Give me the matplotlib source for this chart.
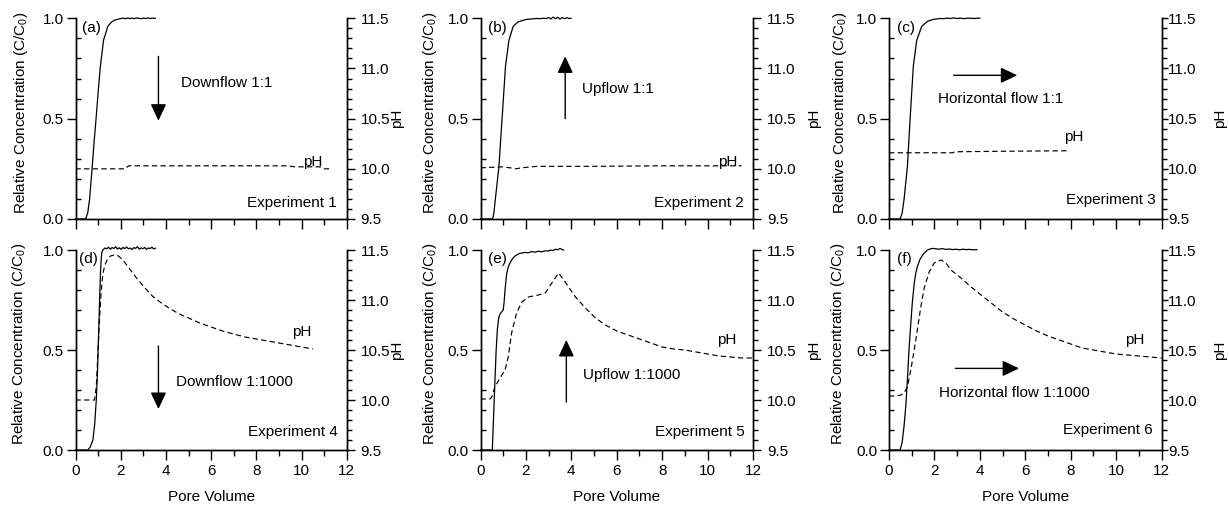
import matplotlib
matplotlib.use("Agg")
import matplotlib.pyplot as plt
from matplotlib.ticker import MultipleLocator

plt.rcParams['font.family'] = ['Liberation Sans', 'DejaVu Sans']
plt.rcParams['mathtext.default'] = 'regular'
FS = 11

# ---------------- Experiment 1 : Downflow 1:1 ----------------
pv_c1 = [0, 0.45, 0.54, 0.62, 0.74, 0.82, 0.91, 1.0, 1.1, 1.24, 1.43, 1.6, 1.72,
         1.9, 2.0, 2.1, 2.2, 2.3, 2.4, 2.5, 2.6, 2.7, 2.8, 2.9, 3.0, 3.1, 3.2, 3.3, 3.4, 3.53]
c1 = [0, 0, 0.03, 0.095, 0.26, 0.38, 0.5, 0.63, 0.76, 0.89, 0.96, 0.982, 0.99,
      0.996, 0.999, 1.001, 0.998, 1.002, 0.999, 1.001, 0.998, 1.002, 1.0, 0.998, 1.001,
      0.999, 1.002, 0.999, 1.001, 1.0]
pv_ph1 = [0, 2.2, 2.35, 5.0, 9.4, 9.7, 10.8, 11.0, 11.28]
ph1 = [10.0, 10.0, 10.03, 10.03, 10.03, 10.02, 10.02, 10.0, 10.0]

# ---------------- Experiment 2 : Upflow 1:1 ----------------
pv_c2 = [0, 0.53, 0.59, 0.65, 0.81, 0.88, 0.95, 1.1, 1.25, 1.44, 1.65, 1.88,
         2.0, 2.15, 2.3, 2.45, 2.6, 2.75, 2.9, 3.0, 3.1, 3.2, 3.3, 3.4, 3.5, 3.6, 3.7,
         3.8, 3.9, 3.99]
c2 = [0, 0, 0.03, 0.095, 0.26, 0.38, 0.5, 0.76, 0.89, 0.96, 0.982, 0.99,
      0.994, 0.996, 0.997, 0.999, 0.998, 1.0, 0.999, 1.004, 0.997, 1.006, 0.998, 1.005,
      0.996, 1.004, 0.998, 1.003, 0.999, 1.0]
pv_ph2 = [0, 1.0, 1.3, 1.56, 1.8, 2.5, 5.0, 8.0, 11.5]
ph2 = [10.01, 10.02, 10.01, 10.0, 10.01, 10.025, 10.025, 10.03, 10.03]

# ---------------- Experiment 3 : Horizontal flow 1:1 ----------------
pv_c3 = [0, 0.49, 0.58, 0.66, 0.81, 0.87, 0.93, 1.07, 1.22, 1.44, 1.7, 1.96,
         2.1, 2.25, 2.4, 2.55, 2.7, 2.85, 3.0, 3.15, 3.3, 3.45, 3.6, 3.75, 3.9, 4.0]
c3 = [0, 0, 0.03, 0.095, 0.26, 0.38, 0.5, 0.76, 0.89, 0.96, 0.985, 0.995,
      0.997, 0.999, 0.998, 1.001, 0.999, 1.002, 0.999, 1.001, 0.998, 1.001, 1.0,
      0.999, 1.001, 1.0]
pv_ph3 = [0, 2.8, 2.9, 5.0, 7.84]
ph3 = [10.16, 10.16, 10.17, 10.175, 10.18]

# ---------------- Experiment 4 : Downflow 1:1000 ----------------
pv_c4 = [0, 0.55, 0.65, 0.77, 0.85, 0.92, 0.97, 1.0, 1.04, 1.08, 1.11, 1.14, 1.17, 1.21,
         1.3, 1.38, 1.46, 1.54, 1.62, 1.7, 1.78, 1.86, 1.94, 2.02, 2.1, 2.18, 2.26, 2.34,
         2.42, 2.5, 2.58, 2.66, 2.74, 2.82, 2.9, 2.98, 3.06, 3.14, 3.22, 3.3, 3.38, 3.46, 3.54]
c4 = [0, 0, 0.015, 0.05, 0.13, 0.25, 0.38, 0.5, 0.65, 0.8, 0.9, 0.96, 0.99, 1.0,
      1.01, 1.006, 1.014, 1.004, 1.012, 1.008, 1.016, 1.005, 1.011, 1.003, 1.013, 1.007,
      1.015, 1.006, 1.01, 1.002, 1.012, 1.008, 1.017, 1.004, 1.011, 1.006, 1.013, 1.003,
      1.01, 1.007, 1.014, 1.005, 1.009]
pv_ph4 = [0, 0.84, 0.92, 0.99, 1.06, 1.14, 1.21, 1.3, 1.42, 1.55, 1.7, 1.8, 1.9, 2.1,
          2.4, 2.7, 3.0, 3.4, 3.8, 4.2, 4.6, 5.0, 5.5, 6.0, 6.5, 7.0, 7.5, 8.0, 8.5, 9.0,
          9.5, 10.0, 10.5]
ph4 = [10.0, 10.0, 10.13, 10.46, 10.8, 11.1, 11.26, 11.35, 11.41, 11.44, 11.45, 11.45,
       11.44, 11.40, 11.31, 11.22, 11.14, 11.04, 10.97, 10.91, 10.86, 10.82, 10.77, 10.73,
       10.69, 10.66, 10.63, 10.61, 10.59, 10.57, 10.55, 10.53, 10.51]

# ---------------- Experiment 5 : Upflow 1:1000 ----------------
pv_c5 = [0, 0.52, 0.56, 0.6, 0.64, 0.69, 0.74, 0.8, 0.86, 0.93, 1.0, 1.04, 1.08, 1.15,
         1.22, 1.3, 1.4, 1.52, 1.7, 1.96, 2.1, 2.25, 2.4, 2.55, 2.7, 2.85, 3.0, 3.1, 3.2,
         3.3, 3.4, 3.5, 3.58, 3.66]
c5 = [0, 0, 0.12, 0.24, 0.36, 0.5, 0.6, 0.66, 0.68, 0.69, 0.70, 0.74, 0.8, 0.88,
      0.915, 0.935, 0.955, 0.97, 0.982, 0.988, 0.986, 0.992, 0.989, 0.994, 0.991, 0.996,
      0.995, 1.0, 0.997, 1.004, 1.001, 1.008, 1.003, 1.0]
pv_ph5 = [0, 0.41, 0.5, 0.63, 0.86, 1.08, 1.22, 1.37, 1.59, 1.82, 2.11, 2.55, 2.85, 3.14,
          3.44, 3.73, 4.18, 4.62, 5.06, 5.5, 6.0, 6.5, 7.0, 7.5, 8.0, 8.5, 9.0, 9.5, 10.0,
          10.5, 11.0, 11.5, 12.0]
ph5 = [10.01, 10.01, 10.03, 10.13, 10.22, 10.3, 10.43, 10.67, 10.87, 10.98, 11.03, 11.05,
       11.07, 11.17, 11.27, 11.18, 11.03, 10.92, 10.82, 10.75, 10.69, 10.65, 10.61, 10.57,
       10.53, 10.51, 10.50, 10.48, 10.46, 10.44, 10.43, 10.42, 10.42]

# ---------------- Experiment 6 : Horizontal flow 1:1000 ----------------
pv_c6 = [0, 0.49, 0.58, 0.66, 0.74, 0.81, 0.88, 0.96, 1.03, 1.11, 1.18, 1.25, 1.36, 1.48,
         1.6, 1.7, 1.8, 1.92, 2.05, 2.2, 2.35, 2.5, 2.65, 2.8, 2.95, 3.1, 3.25, 3.4, 3.55,
         3.7, 3.87]
c6 = [0, 0, 0.04, 0.117, 0.22, 0.35, 0.5, 0.633, 0.74, 0.833, 0.885, 0.917, 0.952, 0.975,
      0.99, 1.0, 1.005, 1.008, 1.006, 1.004, 1.007, 1.003, 1.005, 1.002, 1.004, 1.001,
      1.004, 1.002, 1.003, 1.001, 1.002]
pv_ph6 = [0, 0.3, 0.52, 0.66, 0.81, 0.96, 1.11, 1.25, 1.4, 1.55, 1.77, 1.99, 2.29, 2.51,
          2.73, 3.17, 3.62, 4.0, 4.5, 5.0, 5.5, 6.0, 6.5, 7.0, 7.5, 8.0, 8.5, 9.0, 9.5,
          10.0, 10.5, 11.0, 11.5, 12.0]
ph6 = [10.04, 10.04, 10.05, 10.07, 10.13, 10.3, 10.5, 10.7, 10.93, 11.12, 11.28, 11.37,
       11.4, 11.37, 11.3, 11.22, 11.13, 11.06, 10.97, 10.88, 10.81, 10.75, 10.69, 10.64,
       10.6, 10.56, 10.52, 10.5, 10.48, 10.46, 10.45, 10.44, 10.43, 10.42]

panel_tags = ['(a)', '(b)', '(c)', '(d)', '(e)', '(f)']
flow_labels = ['Downflow 1:1', 'Upflow 1:1', 'Horizontal flow 1:1',
               'Downflow 1:1000', 'Upflow 1:1000', 'Horizontal flow 1:1000']
experiment_labels = ['Experiment 1', 'Experiment 2', 'Experiment 3',
                     'Experiment 4', 'Experiment 5', 'Experiment 6']
x_ticks = [0, 2, 4, 6, 8, 10, 12]

series = [(pv_c1, c1, pv_ph1, ph1), (pv_c2, c2, pv_ph2, ph2), (pv_c3, c3, pv_ph3, ph3),
          (pv_c4, c4, pv_ph4, ph4), (pv_c5, c5, pv_ph5, ph5), (pv_c6, c6, pv_ph6, ph6)]

# layout (pixels) and annotation placement per panel
W, H = 1229, 507
col_edges = [(75.5, 346.7), (480.5, 753.0), (889.0, 1161.5)]
row_edges = [(18.3, 219.0), (250.0, 450.0)]
# arrow tail -> tip in (pore volume, C/C0)
arrows = [((3.67, 0.81), (3.67, 0.49)), ((3.73, 0.50), (3.73, 0.81)),
          ((2.85, 0.716), (5.65, 0.716)), ((3.67, 0.52), (3.67, 0.205)),
          ((3.78, 0.24), (3.78, 0.55)), ((2.92, 0.408), (5.73, 0.408))]
flow_pos = [(4.69, 0.68), (4.47, 0.647), (2.14, 0.60),
            (4.43, 0.342), (4.5, 0.375), (2.18, 0.283)]
ph_pos = [(10.05, 0.285), (10.46, 0.285), (7.72, 0.41),
          (9.6, 0.59), (10.42, 0.55), (10.4, 0.55)]
exp_pos = [(11.56, 0.08), (11.6, 0.08), (11.75, 0.095),
           (11.6, 0.092), (11.63, 0.092), (11.63, 0.1)]
tag_pos = [(0.3, 0.95), (0.32, 0.95), (0.34, 0.95), (0.15, 0.955), (0.32, 0.955), (0.34, 0.955)]
left_label_x = [-0.167, -0.151, -0.146, -0.175, -0.151, -0.155]
right_label_x = [1.16, 1.2, 1.19, 1.16, 1.2, 1.19]

fig = plt.figure(figsize=(W / 100, H / 100), dpi=100)

for i in range(6):
    r, c = divmod(i, 3)
    x0, x1 = col_edges[c]
    ytop, ybot = row_edges[r]
    ax = fig.add_axes([x0 / W, 1 - ybot / H, (x1 - x0) / W, (ybot - ytop) / H])
    ax2 = ax.twinx()

    pv_c, conc, pv_ph, ph = series[i]
    ax.plot(pv_c, conc, color='black', lw=0.9, solid_joinstyle='round', clip_on=False)
    ax2.plot(pv_ph, ph, color='black', lw=0.85, dashes=(4.5, 2.8))

    ax.set_xlim(0, 12)
    ax.set_ylim(0, 1)
    ax2.set_ylim(9.5, 11.5)

    for a in (ax, ax2):
        a.spines['top'].set_visible(False)
        for s in ('left', 'right', 'bottom'):
            a.spines[s].set_linewidth(1.0)

    ax.xaxis.set_major_locator(MultipleLocator(2))
    ax.xaxis.set_minor_locator(MultipleLocator(1))
    ax.yaxis.set_major_locator(MultipleLocator(0.5))
    ax.yaxis.set_minor_locator(MultipleLocator(0.1))
    ax2.yaxis.set_major_locator(MultipleLocator(0.5))
    ax2.yaxis.set_minor_locator(MultipleLocator(0.1))

    ax.tick_params(axis='x', which='major', direction='out', length=7, width=1.0,
                   labelsize=FS, pad=3, labelbottom=(r == 1))
    ax.tick_params(axis='x', which='minor', direction='out', length=4, width=1.0)
    ax.tick_params(axis='y', which='major', direction='out', length=6.5, width=1.0,
                   labelsize=FS, pad=2)
    ax.tick_params(axis='y', which='minor', direction='in', length=3.5, width=1.0)
    rpad = 0.8 if c == 2 else 4.5
    rlen = 4 if c == 2 else 5.5
    ax2.tick_params(axis='y', which='major', direction='out', length=rlen, width=1.0,
                    labelsize=FS, pad=rpad)
    ax2.tick_params(axis='y', which='minor', direction='out', length=3.5, width=1.0)

    ax.set_yticks([0, 0.5, 1.0])
    ax.set_yticklabels(['0.0', '0.5', '1.0'])
    ax2.set_yticks([9.5, 10.0, 10.5, 11.0, 11.5])
    ax2.set_yticklabels(['9.5', '10.0', '10.5', '11.0', '11.5'])
    if r == 1:
        ax.set_xticks(x_ticks)
        ax.set_xticklabels([str(t) for t in x_ticks])
        ax.set_xlabel('Pore Volume', fontsize=FS, labelpad=9)

    ax.set_ylabel('Relative Concentration (C/C$_{0}$)', fontsize=FS)
    ax.yaxis.set_label_coords(left_label_x[i], 0.53)
    ax2.set_ylabel('pH', fontsize=FS)
    ax2.yaxis.set_label_coords(right_label_x[i], 0.5)

    tail, tip = arrows[i]
    ax.annotate('', xy=tip, xytext=tail,
                arrowprops=dict(arrowstyle='-|>,head_length=0.85,head_width=0.4',
                                mutation_scale=12, lw=1.0, color='black',
                                shrinkA=0, shrinkB=0))
    ax.text(*flow_pos[i], flow_labels[i], fontsize=FS, ha='left', va='center')
    ax.text(*ph_pos[i], 'pH', fontsize=FS, ha='left', va='center')
    ax.text(*exp_pos[i], experiment_labels[i], fontsize=FS, ha='right', va='center')
    ax.text(*tag_pos[i], panel_tags[i], fontsize=FS, ha='left', va='center')

fig.savefig('out.png', dpi=100)
